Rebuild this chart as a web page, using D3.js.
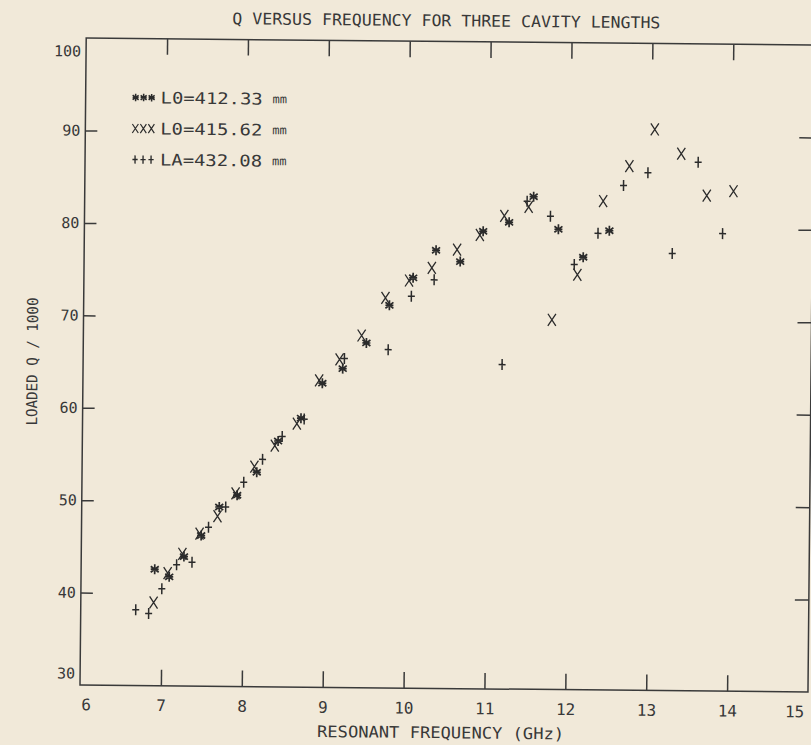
<!DOCTYPE html>
<html>
<head>
<meta charset="utf-8">
<script src="https://cdn.jsdelivr.net/npm/d3@7"></script>
<style>
  html, body { margin: 0; padding: 0; background: #f1e9d9; }
  svg { display: block; }
  text { font-family: "DejaVu Sans Mono", monospace; fill: #383838; }
</style>
</head>
<body>
<svg id="chart" width="811" height="745"></svg>
<script>
// cavity L0 = 412.33 mm (asterisks)
const freqA = [6.91, 7.09, 7.27, 7.48, 7.70, 7.92, 8.16, 8.42, 8.70, 8.96, 9.21, 9.50, 9.78, 10.07, 10.35, 10.65, 10.93, 11.25, 11.55, 11.86, 12.17, 12.49];
const qA    = [42.6, 41.8, 44.0, 46.3, 49.4, 50.7, 53.2, 56.6, 59.1, 62.9, 64.5, 67.3, 71.4, 74.4, 77.4, 76.2, 79.5, 80.5, 83.3, 79.8, 76.8, 79.7];

// cavity L0 = 415.62 mm (X)
const freqB = [6.90, 7.07, 7.25, 7.46, 7.68, 7.90, 8.13, 8.38, 8.65, 8.92, 9.17, 9.44, 9.73, 10.02, 10.30, 10.61, 10.89, 11.19, 11.49, 11.79, 12.10, 12.41, 12.73, 13.04, 13.37, 13.69, 14.02];
const qB    = [39.0, 42.2, 44.3, 46.5, 48.4, 50.9, 53.8, 56.1, 58.5, 63.2, 65.5, 68.1, 72.2, 74.1, 75.5, 77.5, 79.1, 81.2, 82.2, 70.0, 74.9, 82.9, 86.7, 90.7, 88.1, 83.6, 84.1];

// cavity LA = 432.08 mm (+)
const freqC = [6.68, 6.84, 7.00, 7.18, 7.37, 7.57, 7.78, 8.00, 8.23, 8.47, 8.74, 9.23, 9.77, 10.05, 10.33, 11.18, 11.47, 11.76, 12.06, 12.35, 12.66, 12.96, 13.27, 13.58, 13.89];
const qC    = [38.2, 37.8, 40.5, 43.1, 43.4, 47.2, 49.4, 52.1, 54.6, 57.1, 59.0, 65.6, 66.6, 72.4, 74.2, 65.1, 82.8, 81.2, 76.0, 79.4, 84.6, 86.0, 77.3, 87.2, 79.5];

const xTicks = [6, 7, 8, 9, 10, 11, 12, 13, 14, 15];
const yTicks = [30, 40, 50, 60, 70, 80, 90, 100];

const legendLabels = ['L0=412.33', 'L0=415.62', 'LA=432.08'];

const title = 'Q VERSUS FREQUENCY FOR THREE CAVITY LENGTHS';
const xTitle = 'RESONANT FREQUENCY (GHz)';
const yTitle = 'LOADED Q / 1000';

const ink = '#2b2b2b';

// marker shapes, drawn around 0,0
const shapes = {
    star: 'M0,-5L0,5M-4,-3L4,3M-4,3L4,-3M-4,0L4,0',
    cross: 'M-4,-6L4,6M4,-6L-4,6',
    plus: 'M0,-5.5L0,5.5M-3.5,0L3.5,0'
};

const series = [
    {freq: freqA, q: qA, shape: 'star', width: 1.7},
    {freq: freqB, q: qB, shape: 'cross', width: 1.3},
    {freq: freqC, q: qC, shape: 'plus', width: 1.5}
];

const svg = d3.select('#chart');
// the scan is slightly turned, so the whole sheet is rotated a little
const sheet = svg.append('g').attr('transform', 'rotate(0.55,80,685)');

const x = d3.scaleLinear().domain([6, 15]).range([80, 808]);
const y = d3.scaleLinear().domain([30, 100]).range([685, 38]);

// frame
sheet.append('rect')
    .attr('x', x(6)).attr('y', y(100))
    .attr('width', x(15) - x(6)).attr('height', y(30) - y(100))
    .attr('fill', 'none').attr('stroke', '#3a3a3a').attr('stroke-width', 1.5);

function styleAxis(g) {
    g.attr('font-family', null).attr('font-size', null);
    g.select('.domain').remove();
    g.selectAll('.tick line').attr('stroke', '#3a3a3a').attr('stroke-width', 1.5);
}

const inner = xTicks.slice(1, -1);
const innerY = yTicks.slice(1, -1);

const bottom = sheet.append('g')
    .attr('transform', `translate(0,${y(30)})`)
    .call(d3.axisBottom(x).tickValues(xTicks).tickSize(-16).tickPadding(14))
    .call(styleAxis);
bottom.selectAll('.tick').filter(d => d === 6 || d === 15).select('line').remove();
bottom.selectAll('.tick text').attr('font-size', 16);
bottom.selectAll('.tick text').filter(d => d === 6).attr('text-anchor', 'start').attr('dx', 1);
bottom.selectAll('.tick text').filter(d => d === 15).attr('text-anchor', 'end').attr('dx', -4);

sheet.append('g')
    .attr('transform', `translate(0,${y(100)})`)
    .call(d3.axisTop(x).tickValues(inner).tickSize(-16).tickFormat(''))
    .call(styleAxis);

const left = sheet.append('g')
    .attr('transform', `translate(${x(6)},0)`)
    .call(d3.axisLeft(y).tickValues(yTicks).tickSize(-12).tickPadding(5))
    .call(styleAxis);
left.selectAll('.tick').filter(d => d === 30 || d === 100).select('line').remove();
left.selectAll('.tick text').attr('font-size', 15);
left.selectAll('.tick text').filter(d => d === 100).attr('dy', '1.2em');
left.selectAll('.tick text').filter(d => d === 30).attr('dy', '-0.45em');

sheet.append('g')
    .attr('transform', `translate(${x(15)},0)`)
    .call(d3.axisRight(y).tickValues(innerY).tickSize(-14).tickFormat(''))
    .call(styleAxis);

// points
series.forEach(s => {
    sheet.append('g')
        .selectAll('path')
        .data(s.freq.map((f, i) => ({f, q: s.q[i]})))
        .join('path')
        .attr('transform', d => `translate(${x(d.f)},${y(d.q)})`)
        .attr('d', shapes[s.shape])
        .attr('fill', 'none')
        .attr('stroke', ink)
        .attr('stroke-width', s.width);
});

// legend
const legend = sheet.append('g').attr('transform', 'translate(130,97)');
series.forEach((s, i) => {
    const row = legend.append('g').attr('transform', `translate(0,${i * 31})`);
    [0, 8, 16].forEach(dx => {
        row.append('path')
            .attr('transform', `translate(${dx},0) scale(0.75)`)
            .attr('d', shapes[s.shape])
            .attr('fill', 'none').attr('stroke', ink)
            .attr('stroke-width', s.width * 1.2);
    });
    row.append('text').attr('x', 25).attr('dy', '0.36em')
        .attr('font-size', 16).attr('textLength', 102).attr('lengthAdjust', 'spacingAndGlyphs')
        .text(legendLabels[i]);
    row.append('text').attr('x', 137).attr('dy', '0.36em')
        .attr('font-size', 12)
        .text('mm');
});

// titles
sheet.append('text')
    .attr('x', 440).attr('y', 17).attr('dy', '0.36em')
    .attr('text-anchor', 'middle').attr('font-size', 16)
    .attr('textLength', 428).attr('lengthAdjust', 'spacingAndGlyphs')
    .text(title);

sheet.append('text')
    .attr('x', 441).attr('y', 729).attr('dy', '0.36em')
    .attr('text-anchor', 'middle').attr('font-size', 16)
    .attr('textLength', 247).attr('lengthAdjust', 'spacingAndGlyphs')
    .text(xTitle);

sheet.append('text')
    .attr('transform', 'translate(29,362) rotate(-90)')
    .attr('dy', '0.36em')
    .attr('text-anchor', 'middle').attr('font-size', 15)
    .attr('textLength', 128).attr('lengthAdjust', 'spacingAndGlyphs')
    .text(yTitle);
</script>
</body>
</html>
